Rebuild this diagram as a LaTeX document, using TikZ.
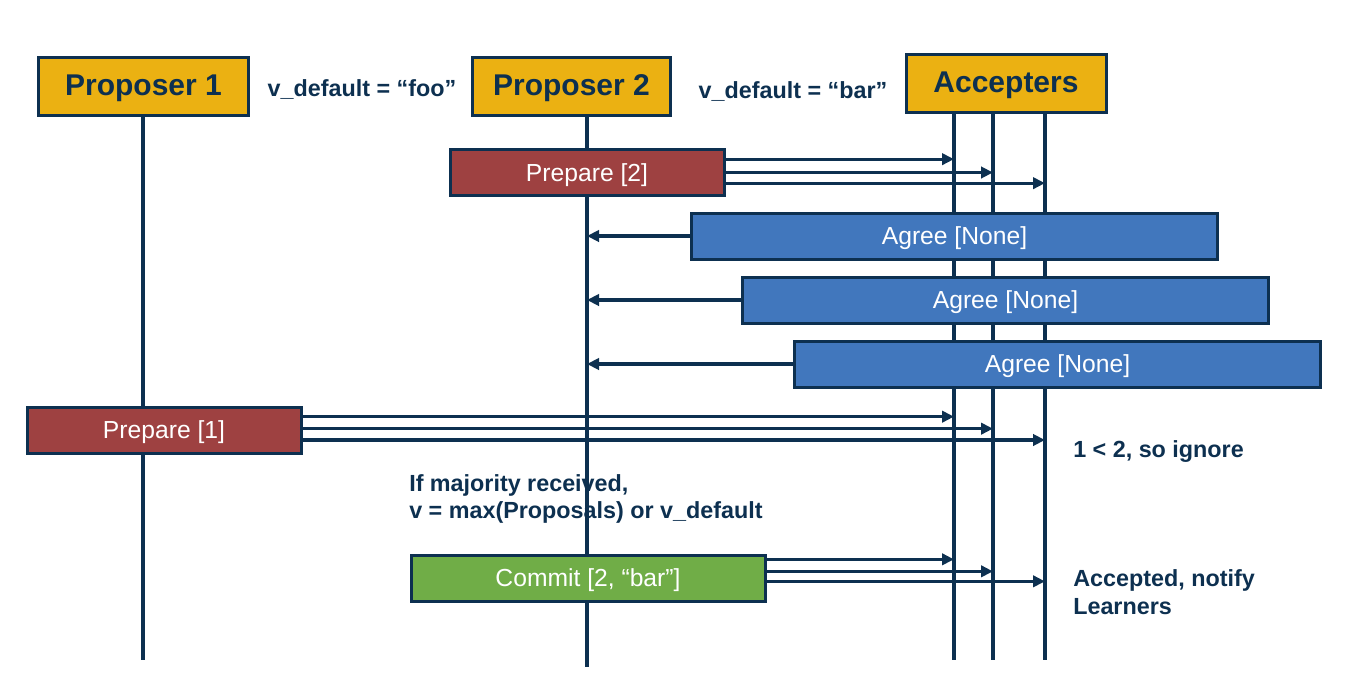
\documentclass[tikz,border=0pt]{standalone}
\usepackage{fontspec}
\setmainfont{Liberation Sans}
\usetikzlibrary{arrows.meta}
\definecolor{navy}{HTML}{0D3050}
\definecolor{gold}{HTML}{EBB112}
\definecolor{prepred}{HTML}{9E4141}
\definecolor{agreeblue}{HTML}{4177BD}
\definecolor{commitgreen}{HTML}{70AD47}
\tikzset{
  actor/.style={draw=navy,line width=2.25pt,fill=gold,text=navy,font=\fontsize{22.5}{26}\selectfont\bfseries,minimum height=43.5pt,inner sep=0pt,text depth=1.5pt},
  msgbox/.style={draw=navy,line width=2.25pt,text=white,font=\fontsize{18.5}{22}\selectfont,minimum height=34.5pt,inner sep=0pt,text depth=0pt},
  life/.style={navy,line width=2.4pt},
  msg/.style={navy,line width=2.4pt,->},
  note/.style={text=navy,font=\fontsize{17.5}{20.5}\selectfont\bfseries,inner sep=0pt}
}
\begin{document}
\begin{tikzpicture}[line join=miter,>={Triangle[length=9pt,width=8.5pt]},x=0.75pt,y=-0.75pt]
		\useasboundingbox (0,0) rectangle (1357,682);
		% lifelines
		\coordinate (p1) at (143,115);
		\coordinate (p2) at (587,115);
		\coordinate (a1) at (954,113);
		\coordinate (a2) at (993,113);
		\coordinate (a3) at (1045,113);
		\draw[life] (p1) -- (p1 |- 0,660);
		\draw[life] (p2) -- (p2 |- 0,667);
		\foreach \l in {a1,a2,a3}
			\draw[life] (\l) -- (\l |- 0,660);
		% actors
		\node[actor,minimum width=158pt] (prop1) at (143.5,86) {Proposer 1};
		\node[actor,minimum width=148pt] (prop2) at (571.5,86) {Proposer 2};
		\node[actor,minimum width=150pt,minimum height=44pt] (acc) at (1006,83.5) {Accepters};
		\node[note] (vfoo) at (362,89) {v\_default = “foo”};
		\node[note] (vbar) at (793,91) {v\_default = “bar”};
		% prepare 2
		\node[msgbox,fill=prepred,minimum width=205.5pt,minimum height=34pt] (prep2) at (587,172.5) {Prepare [2]};
		\foreach \l/\dy in {a1/10pt,a2/0pt,a3/-8pt}
			\draw[msg] ([yshift=\dy]prep2.east) -- ([yshift=\dy]prep2.east -| \l);
		% agree
		\node[msgbox,fill=agreeblue,minimum width=394pt] (agree1) at (954.5,236) {Agree [None]};
		\node[msgbox,fill=agreeblue,minimum width=394pt] (agree2) at (1005.5,300) {Agree [None]};
		\node[msgbox,fill=agreeblue,minimum width=394pt] (agree3) at (1057.5,364) {Agree [None]};
		\foreach \n in {agree1,agree2,agree3}
			\draw[msg] (\n.west) -- (\n.west -| p2);
		% prepare 1
		\node[msgbox,fill=prepred,minimum width=205.5pt] (prep1) at (164,430) {Prepare [1]};
		\foreach \l/\dy in {a1/10pt,a2/1pt,a3/-7.5pt}
			\draw[msg] ([yshift=\dy]prep1.east) -- ([yshift=\dy]prep1.east -| \l);
		\node[note,anchor=west] (ignore) at (1073,452) {1 < 2, so ignore};
		\node[note,anchor=west,align=left] (majority) at (409,499) {If majority received,\\v = max(Proposals) or v\_default};
		% commit
		\node[msgbox,fill=commitgreen,minimum width=265.5pt] (commit) at (588,578) {Commit [2, “bar”]};
		\foreach \l/\dy in {a1/14pt,a2/5pt,a3/-2.5pt}
			\draw[msg] ([yshift=\dy]commit.east) -- ([yshift=\dy]commit.east -| \l);
		\node[note,anchor=west,align=left] (accepted) at (1073,592) {Accepted, notify\\Learners};
	\end{tikzpicture}
\end{document}
